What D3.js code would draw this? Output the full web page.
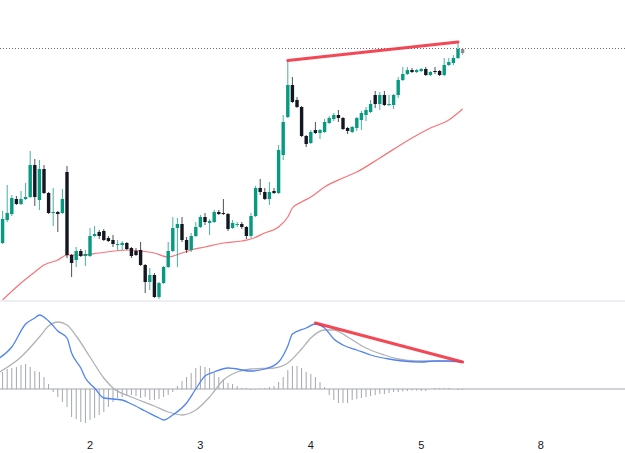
<!DOCTYPE html>
<html>
<head>
<meta charset="utf-8">
<script src="https://cdn.jsdelivr.net/npm/d3@7"></script>
<style>
  body { margin: 0; background: #ffffff; }
  svg { display: block; }
  .tick-label { font-family: "Liberation Sans", Arial, sans-serif; font-size: 11px; fill: #131722; }
</style>
</head>
<body>
<div id="chart"></div>
<script>
// one row per hourly bar: [open, high, low, close]
var ohlc = [
  [63,64,56,57],[57,89,56,81],[80,115,78,87],[86,105,84,102],[101,104,95,96],
  [96,109,95,101],[101,117,100,103],[103,149,102,135],[135,141,94,103],[100,140,90,131],
  [131,135,106,107],[107,108,86,87],[87,112,74,88],[88,89,68,86],[87,111,86,101],
  [128,134,42,45],[45,46,23,37],[40,53,33,49],[49,51,43,44],[44,50,34,46],
  [44,72,43,64],[64,74,63,66],[68,70,61,64],[69,71,59,60],[62,64,58,59],
  [60,65,53,56],[55,60,50,56],[55,59,50,57],[57,58,50,51],[52,53,42,44],
  [49,52,44,45],[50,58,34,35],[35,36,7,18],[18,32,10,25],[25,27,2,3],
  [3,18,1,17],[17,34,16,33],[33,58,32,49],[49,83,48,72],[72,82,33,76],
  [76,83,58,60],[60,63,47,50],[50,67,48,64],[64,78,63,73],[73,85,72,83],
  [83,87,75,78],[77,81,65,79],[78,90,77,88],[88,90,85,86],[87,101,85,86],
  [86,87,69,71],[72,80,71,77],[75,78,73,76],[76,78,71,73],[73,74,61,64],
  [64,87,62,84],[84,114,83,112],[112,121,105,108],[108,112,100,101],[101,118,95,108],
  [109,112,106,107],[107,155,106,150],[145,185,140,178],[183,239.5,182,215],[215,223,197,198],
  [200,203,192,193],[193,194,163,164],[164,165,153,156],[157,170,156,168],[170,178,166,167],
  [167,171,161,170],[168,181,167,178],[177,184,176,182],[181,187,179,185],[185,190,178,182],
  [182,183,170,171],[172,173,166,169],[168,174,167,173],[172,183,169,182],[180,189,170,187],
  [185,193,179,190],[188,200,187,196],[205,209,192,196],[196,208,190,205],[205,209,194,195],
  [195,205,194,196],[195,206,191,205],[205,223,202,220],[220,233,219,226],[226,233,225,230],
  [230,232,227,228],[228,231,227,230],[229,232,228,231],[231,233,224,225],[225,229,224,228],
  [229,233,226,228],[229,230,224,225],[225,242,224,235],[235,242,234,238],[237,245,235,242],
  [242,258,241,251],[251,252,245,247]
];

// moving average read at [bar, value]
var maPoints = [
  [1,0],[5,17],[8,28],[10,35],[13,40],[15,45],[18,45],[22,47],[28,50],[31,49],
  [34,47],[37,43],[40,47],[42,50],[45,53],[49,57],[53,59],[55,61],[58,67],[61,73],
  [63,83],[64,92],[66,98],[68,103],[71,113],[75,122],[78,128],[83,142],[90,162],
  [94,172],[98,180],[101,191]
];

// MACD histogram, one value per bar
var histValues = [
  1.6,1.7,2.0,2.1,2.2,2.4,2.5,2.2,1.8,1.7,
  1.2,0.5,-0.3,-0.8,-1.3,-1.8,-2.8,-3.0,-3.3,-3.4,
  -3.1,-2.9,-2.6,-2.3,-1.8,-1.3,-0.9,-0.8,-0.7,-0.6,
  -0.7,-0.9,-0.8,-1.1,-1.1,-1.0,-0.8,-0.6,-0.3,0.3,
  0.8,1.2,1.6,2.1,2.3,2.2,2.1,1.6,1.2,1.0,
  0.6,0.5,0.3,0.1,0.1,-0.05,-0.05,0.05,0.1,0.2,
  0.3,0.7,1.2,1.9,2.3,2.3,2.1,1.7,1.5,1.2,
  0.7,0.2,-0.6,-1.1,-1.4,-1.4,-1.4,-1.1,-1.0,-0.9,
  -0.8,-0.7,-0.6,-0.5,-0.5,-0.4,-0.3,-0.3,-0.25,-0.2,
  -0.15,-0.15,-0.2,-0.2,0,0.1,0.1,0.1,0.1,0,
  -0.1,-0.1
];

var macdPoints = [
  [0,3.0],[3,4.2],[6,6.5],[8,7.1],[9,7.4],[11,6.8],[13,5.8],[15,5.1],[16,3.6],[18,2.1],
  [19,1.1],[21,0.1],[23,-0.9],[27,-1.1],[29,-1.5],[32,-2.2],[35,-2.9],[36,-3.1],[38,-2.6],[41,-1.4],
  [43,0.0],[45,1.3],[47,1.7],[50,2.1],[55,1.8],[58,2.0],[61,2.7],[63,4.3],[64,5.5],[67,6.1],
  [69,6.5],[71,6.1],[73,5.0],[75,4.4],[78,3.9],[81,3.4],[85,3.0],[88,2.8],[92,2.7],[95,2.8],
  [98,2.8],[101,2.7]
];

var signalPoints = [
  [0,1.6],[5,3.2],[9,5.2],[11,6.3],[13,6.7],[15,6.4],[17,5.3],[20,3.2],[23,1.1],[25,0.1],
  [29,-0.8],[34,-1.7],[37,-2.3],[40,-2.6],[43,-2.1],[46,-0.8],[49,0.9],[52,1.7],[55,2.0],[60,2.1],
  [63,2.6],[66,4.0],[68,5.1],[71,5.9],[73,5.9],[76,5.2],[80,4.1],[84,3.4],[87,3.0],[91,2.8],
  [95,2.8],[101,2.7]
];

var tickBars = [20, 44, 68, 92, 118];
var tickLabels = ["2", "3", "4", "5", "8"];

var priceTrend = [[63, 239.5], [100, 258]];
var macdTrend = [[69, 6.6], [101, 2.7]];
var lastPrice = 251.5;

var width = 625, height = 453;
var upColor = "#089981", downColor = "#131722";

var svg = d3.select("#chart").append("svg")
  .attr("width", width)
  .attr("height", height);

var x = d3.scaleLinear().domain([0, 118]).range([-2, 540.8]);
var y = d3.scaleLinear().domain([0, 300]).range([300, 0]);
var yM = d3.scaleLinear().domain([-3.6, 8.6]).range([425, 303]);

var defs = svg.append("defs");
defs.append("clipPath").attr("id", "clipMain")
  .append("rect").attr("x", 0).attr("y", 0).attr("width", width).attr("height", 300);
defs.append("clipPath").attr("id", "clipMacd")
  .append("rect").attr("x", 0).attr("y", 302).attr("width", width).attr("height", 128);

// pane separator
svg.append("line")
  .attr("x1", 0).attr("x2", width)
  .attr("y1", 301).attr("y2", 301)
  .style("stroke", "#eceef2")
  .style("stroke-width", 2);

var main = svg.append("g").attr("clip-path", "url(#clipMain)");

// last price line
main.append("line")
  .attr("x1", 0).attr("x2", width)
  .attr("y1", y(lastPrice)).attr("y2", y(lastPrice))
  .style("stroke", "#6a6d78")
  .style("stroke-dasharray", "1,2");

// moving average
var maLine = d3.line()
  .x(function (d) { return x(d[0]); })
  .y(function (d) { return y(d[1]); })
  .curve(d3.curveMonotoneX);

main.append("path")
  .datum(maPoints)
  .attr("d", maLine)
  .style("fill", "none")
  .style("stroke", "#f7737a")
  .style("stroke-width", 1.2);

function candleColor(d, i) {
  if (i === ohlc.length - 1) return "#8a8d96";
  return d[3] >= d[0] ? upColor : downColor;
}

// candles
var candle = main.selectAll(".candle")
  .data(ohlc)
  .enter().append("g")
  .attr("class", "candle");

candle.append("line")
  .attr("x1", function (d, i) { return x(i); })
  .attr("x2", function (d, i) { return x(i); })
  .attr("y1", function (d) { return y(d[1]); })
  .attr("y2", function (d) { return y(d[2]); })
  .style("stroke", candleColor)
  .style("stroke-opacity", 0.75)
  .style("stroke-width", 1);

candle.append("rect")
  .attr("x", function (d, i) { return x(i) - 1.7; })
  .attr("width", 3.4)
  .attr("y", function (d) { return y(Math.max(d[0], d[3])); })
  .attr("height", function (d) { return Math.max(1, Math.abs(y(d[0]) - y(d[3]))); })
  .style("fill", candleColor);

// price trend line
var trendLine = d3.line()
  .x(function (d) { return x(d[0]); })
  .y(function (d) { return y(d[1]); });

main.append("path")
  .datum(priceTrend)
  .attr("d", trendLine)
  .style("stroke", "#f23645")
  .style("stroke-width", 3)
  .style("stroke-linecap", "round")
  .style("opacity", 0.9);

// MACD pane
var macd = svg.append("g").attr("clip-path", "url(#clipMacd)");

macd.selectAll(".hist")
  .data(histValues)
  .enter().append("line")
  .attr("class", "hist")
  .attr("x1", function (d, i) { return x(i); })
  .attr("x2", function (d, i) { return x(i); })
  .attr("y1", yM(0))
  .attr("y2", function (d) { return yM(d); })
  .style("stroke", "#a3a6ae")
  .style("stroke-width", 1);

macd.append("line")
  .attr("x1", 0).attr("x2", width)
  .attr("y1", yM(0)).attr("y2", yM(0))
  .style("stroke", "#a3a6ae")
  .style("stroke-width", 1);

var mLine = d3.line()
  .x(function (d) { return x(d[0]); })
  .y(function (d) { return yM(d[1]); })
  .curve(d3.curveMonotoneX);

macd.append("path")
  .datum(signalPoints)
  .attr("d", mLine)
  .style("fill", "none")
  .style("stroke", "#b0b2b8")
  .style("stroke-width", 1.3);

macd.append("path")
  .datum(macdPoints)
  .attr("d", mLine)
  .style("fill", "none")
  .style("stroke", "#5183f2")
  .style("stroke-width", 1.3);

macd.append("path")
  .datum(macdTrend)
  .attr("d", d3.line()
    .x(function (d) { return x(d[0]); })
    .y(function (d) { return yM(d[1]); }))
  .style("stroke", "#f23645")
  .style("stroke-width", 3)
  .style("stroke-linecap", "round")
  .style("opacity", 0.9);

// time axis labels
svg.selectAll(".tick-label")
  .data(tickLabels)
  .enter().append("text")
  .attr("class", "tick-label")
  .attr("x", function (d, i) { return x(tickBars[i]); })
  .attr("y", 449)
  .attr("text-anchor", "middle")
  .text(function (d) { return d; });
</script>
</body>
</html>
